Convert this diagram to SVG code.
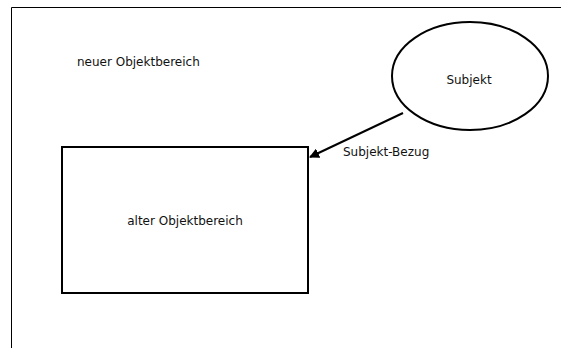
<svg xmlns="http://www.w3.org/2000/svg" width="561" height="348" viewBox="0 0 561 348">
  <style>
    text { font-family: "DejaVu Sans", "Liberation Sans", sans-serif; font-size: 12px; fill: #111; }
    .shape { fill: #fff; stroke: #000; stroke-width: 2; }
    .frame { fill: none; stroke: #000; stroke-width: 1; }
    .edge { fill: none; stroke: #000; stroke-width: 2; }
  </style>
  <defs>
    <marker id="arrow" markerWidth="10" markerHeight="10" refX="9" refY="5" orient="auto" markerUnits="userSpaceOnUse">
      <path d="M0,0 L10,5 L0,10 Z" fill="#000"/>
    </marker>
  </defs>
  <rect width="561" height="348" fill="#fff"/>
  <!-- area frame -->
  <path class="frame" d="M561,7.5 H11.5 V348"/>
  <text x="77" y="66">neuer Objektbereich</text>
  <g id="alter-objektbereich">
    <rect class="shape" x="62" y="147" width="246" height="146"/>
    <text x="185" y="225" text-anchor="middle">alter Objektbereich</text>
  </g>
  <g id="subjekt">
    <ellipse class="shape" cx="470" cy="76" rx="78" ry="54"/>
    <text x="469" y="84" text-anchor="middle">Subjekt</text>
  </g>
  <g id="connectors">
    <line class="edge" x1="403" y1="113" x2="310" y2="157" marker-end="url(#arrow)"/>
    <text x="343" y="156">Subjekt-Bezug</text>
  </g>
</svg>
